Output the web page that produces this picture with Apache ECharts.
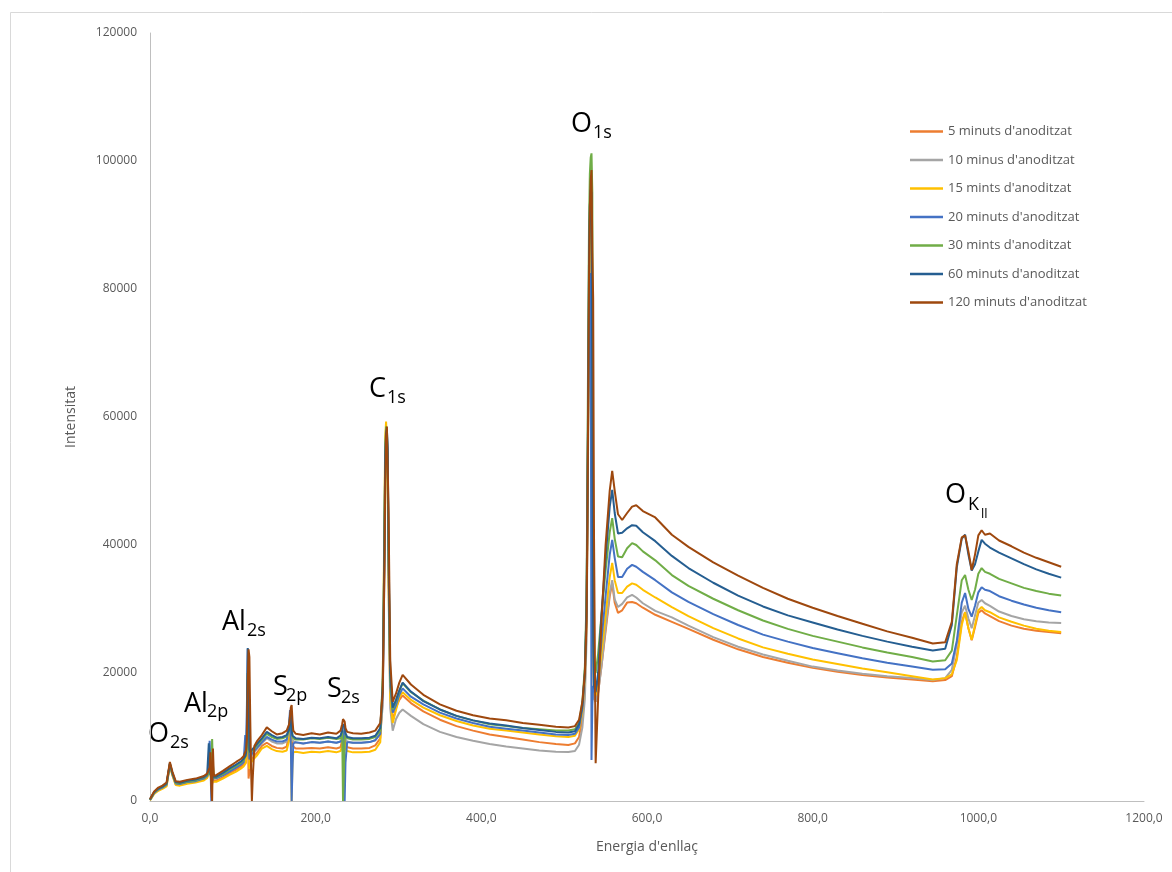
<!DOCTYPE html>
<html>
<head>
<meta charset="utf-8">
<title>Espectres XPS</title>
<script src="https://cdn.jsdelivr.net/npm/echarts@6/dist/echarts.min.js"></script>
<style>
  html, body { margin: 0; padding: 0; background: #ffffff; }
  #chart { width: 1172px; height: 872px; }
</style>
</head>
<body>
<div id="chart"></div>
<script>
// Binding energy grid (eV), grouped by spectral region
const energies = [
  0, 5, 10, 15, 20, 24, 27, 31, 36, 45, 55, 65, 69,                 // O2s
  71, 72, 73, 74, 75, 76, 77, 78, 80,                               // Al2p
  88, 96, 104, 110, 113,
  115, 116, 117, 118, 119, 120, 121, 122, 123, 124, 126, 129,       // Al2s
  135, 141, 147, 153, 160, 165,
  168, 169, 170, 171, 172, 173, 176,                                // S2p
  185, 195, 205, 215, 225, 230,
  232, 233, 234, 235, 236, 238,                                     // S2s
  245, 255, 265, 272, 278,
  281, 283, 284, 285, 286, 287, 288, 290, 293, 297, 301, 305,       // C1s
  315, 330, 350, 370, 390, 410, 430, 450, 470, 490, 505, 513, 518, 522, 525,
  527, 528, 529, 530, 531, 532, 533, 534, 535, 536, 538,            // O1s
  541, 545, 550, 555, 558, 561, 565, 570, 576, 582, 587, 595,
  610, 630, 650, 680, 710, 740, 770, 800, 830, 860, 890, 920, 945, 960,
  968, 974, 980, 984, 988, 992, 996, 1000, 1004, 1008, 1014, 1025, 1040, 1055, 1070, 1085, 1100  // O KLL
];

// Intensities (counts), one array per anodising time
const min5 = [
  150, 1200, 1700, 2000, 2400, 5600, 4100, 2600, 2500, 2800, 3000, 3400, 3700,
  4000, 7000, 4500, 3200, 2600, 3300, 3300, 3100, 3200,
  3700, 4300, 4900, 5400, 5700,
  6000, 6500, 9000, 14000, 3500, 3800, 5600, 6300, 6600, 6800, 7000, 7500,
  8600, 9100, 8600, 8300, 8200, 8500,
  10500, 12500, 12300, 9500, 8600, 8300, 8200,
  8200, 8300, 8200, 8400, 8200, 8400,
  9500, 10600, 11000, 10000, 9000, 8400,
  8200, 8200, 8300, 8700, 9800,
  16000, 38000, 53000, 57500, 57800, 52000, 37000, 17000, 12500, 14600, 15800, 16500,
  15300, 14000, 12700, 11700, 11000, 10400, 10000, 9600, 9200, 8900, 8750, 9000, 10000, 13000, 18000,
  27000, 42000, 60000, 78000, 88000, 92000, 90000, 65000, 28000, 16000, 15500,
  17000, 21000, 26500, 32000, 34000, 31000, 29400, 29800, 31000, 31100, 30900, 30200,
  29100, 28000, 26900, 25200, 23700, 22500, 21600, 20800, 20200, 19700, 19300, 19000, 18700, 18900,
  19500, 22500, 28000, 29500, 27000, 25100, 27200, 29400, 29800, 29300, 28900, 28100, 27400, 26900, 26600, 26400, 26200
];
const min10 = [
  200, 1300, 1850, 2150, 2600, 5800, 4300, 2850, 2700, 3000, 3200, 3600, 4000,
  4200, 5000, 4800, 3600, 3300, 3500, 3500, 3400, 3500,
  4100, 4700, 5300, 5800, 6100,
  6400, 6800, 9000, 20000, 12000, 6000, 6500, 6900, 7100, 7300, 7600, 8100,
  9000, 9800, 9300, 9000, 9000, 9300,
  11000, 12800, 13000, 10800, 9500, 9200, 9100,
  9000, 9200, 9100, 9300, 9100, 9300,
  10200, 11600, 12000, 10800, 9700, 9300,
  9100, 9100, 9200, 9500, 10500,
  15000, 36000, 51000, 56000, 57000, 50000, 33000, 14500, 11000, 12800, 13800, 14300,
  13300, 12000, 10800, 10000, 9400, 8900, 8500, 8200, 7900, 7700, 7650, 7800, 8800, 11500, 16000,
  25000, 40000, 58000, 74000, 84000, 88000, 86000, 60000, 24000, 16000, 15500,
  16900, 21000, 27000, 32500, 34500, 31500, 30300, 30800, 31800, 32200, 31800, 30900,
  29700, 28700, 27400, 25600, 24100, 22900, 21900, 21000, 20400, 19900, 19500, 19200, 18900, 19200,
  20500, 24500, 29500, 30500, 28500, 27000, 29000, 31000, 31400, 30900, 30500, 29600, 28900, 28400, 28100, 27900, 27800
];
const min15 = [
  100, 1100, 1600, 1900, 2300, 5500, 4000, 2500, 2400, 2700, 2900, 3200, 3600,
  3800, 4600, 4200, 3000, 2800, 3200, 3000, 2900, 3000,
  3500, 4100, 4600, 5100, 5400,
  5600, 6000, 9000, 19000, 12000, 5000, 5600, 6000, 6200, 6400, 6600, 7100,
  8200, 8600, 8100, 7800, 7700, 7900,
  9500, 11000, 12000, 0, 6000, 7600, 7700,
  7500, 7700, 7600, 7800, 7600, 7800,
  8600, 9800, 10000, 9000, 8200, 7800,
  7600, 7600, 7700, 8000, 9200,
  19000, 45000, 57000, 59300, 56000, 48000, 34000, 16000, 12200, 14200, 16200, 17000,
  15800, 14600, 13400, 12500, 11800, 11300, 11000, 10700, 10400, 10100, 10000, 10200, 11200, 14000, 19500,
  29000, 44000, 62000, 80000, 90000, 93000, 92000, 70000, 30000, 17000, 16500,
  18900, 23000, 29000, 35000, 37200, 34500, 32500, 32500, 33500, 34000, 33800, 33000,
  31800, 30300, 28900, 27000, 25400, 24000, 23000, 22100, 21400, 20700, 20100, 19500, 19000, 19200,
  19800, 22000, 27500, 29500, 27000, 25200, 27500, 29800, 30300, 29800, 29500, 28700, 28000, 27400, 26900, 26600, 26400
];
const min20 = [
  150, 1250, 1800, 2100, 2550, 5700, 4200, 2750, 2650, 2950, 3100, 3500, 3900,
  5000, 9400, 6000, 0, 3000, 3600, 3600, 3500, 3600,
  4000, 4600, 5200, 5700, 6100,
  10300, 8000, 15000, 23800, 10000, 6500, 6800, 7200, 7400, 7600, 7800, 8300,
  9200, 10000, 9600, 9300, 9300, 9600,
  12000, 14200, 9000, 0, 5000, 9000, 9200,
  9000, 9200, 9100, 9300, 9100, 9300,
  9400, 9600, 11000, 0, 6000, 9200,
  9100, 9100, 9200, 9500, 10500,
  17000, 40000, 54000, 57000, 57500, 53000, 38000, 18000, 13800, 15000, 16600, 17600,
  16300, 15100, 13800, 12900, 12200, 11600, 11300, 11000, 10700, 10400, 10300, 10500, 11500, 14500, 20000,
  30000, 46000, 62000, 72000, 78000, 82500, 6400, 15000, 18000, 17000, 17500,
  19000, 25000, 32000, 38500, 40800, 38000, 35000, 35000, 36300, 36900, 36600, 35800,
  34500, 32600, 31100, 29200, 27500, 26000, 24900, 23900, 23100, 22300, 21600, 21000, 20500, 20600,
  21500, 25000, 31000, 32500, 30000, 28800, 30500, 32600, 33400, 33000, 32800, 32000, 31300, 30700, 30200, 29800, 29500
];
const min30 = [
  200, 1350, 1900, 2200, 2650, 5800, 4300, 2850, 2750, 3050, 3250, 3650, 4050,
  4000, 4300, 4500, 5200, 9700, 5600, 4000, 3600, 3700,
  4200, 4900, 5500, 6000, 6400,
  6700, 7100, 8500, 20000, 15000, 7500, 7300, 7600, 7800, 8000, 8200, 8700,
  9600, 10500, 10000, 9700, 9800, 10100,
  11000, 12800, 13500, 11500, 10200, 9800, 9600,
  9600, 9800, 9700, 9900, 9700, 9800,
  11000, 0, 4000, 9600, 10300, 9800,
  9600, 9600, 9700, 10000, 11000,
  19000, 42000, 55000, 58500, 58000, 52000, 38000, 19000, 14300, 15600, 17200, 18400,
  17000, 15700, 14300, 13300, 12600, 12000, 11700, 11400, 11200, 11000, 11000, 11200, 12200, 15500, 21000,
  32000, 50000, 72000, 90000, 98000, 100500, 101200, 95000, 40000, 22000, 20000,
  23000, 29000, 36000, 42000, 44200, 41000, 38200, 38100, 39500, 40300, 40000, 39000,
  37600, 35300, 33600, 31600, 29800, 28200, 26900, 25800, 24900, 24000, 23200, 22500, 21800, 22000,
  23500, 29000, 34500, 35300, 33000, 31400, 33000, 35500, 36400, 35800, 35500, 34700, 34000, 33300, 32800, 32400, 32100
];
const min60 = [
  250, 1400, 1950, 2250, 2750, 5900, 4400, 2950, 2850, 3150, 3350, 3750, 4150,
  9000, 6000, 4200, 3800, 3600, 3700, 3800, 3700, 3800,
  4400, 5100, 5700, 6200, 6600,
  7000, 7500, 12000, 23900, 16000, 8000, 7600, 7800, 8000, 8200, 8400, 8900,
  9800, 10800, 10300, 9900, 10000, 10300,
  11200, 13500, 14000, 11000, 10200, 9900, 9800,
  9700, 9900, 9800, 10000, 9800, 10200,
  11000, 12000, 12200, 11600, 10600, 10000,
  9800, 9800, 9900, 10200, 11400,
  18000, 40000, 54000, 57500, 58000, 55000, 40000, 20000, 14600, 15800, 17300, 18500,
  17100, 15600, 14300, 13300, 12600, 12100, 11800, 11400, 11100, 10800, 10700, 10900, 12000, 15000, 20000,
  30000, 45000, 65000, 85000, 93000, 95500, 95000, 60000, 25000, 18000, 17000,
  20000, 29000, 38000, 46000, 48600, 45000, 41800, 41900, 42600, 43100, 43000, 42000,
  40600, 38300, 36400, 34100, 32100, 30400, 29000, 27900, 26800, 25800, 24900, 24100, 23500, 23800,
  27500, 36500, 41000, 41600, 38500, 36000, 37000, 39000, 40800, 40200, 39600, 38800, 37900, 37000, 36200, 35500, 34900
];
const min120 = [
  300, 1500, 2100, 2400, 2900, 6100, 4600, 3100, 3000, 3300, 3500, 3900, 4300,
  4600, 5200, 7600, 2200, 0, 8200, 4300, 3900, 4000,
  4700, 5400, 6100, 6600, 7000,
  7300, 8000, 9600, 18500, 23700, 22500, 13000, 5000, 0, 3500, 8600, 9300,
  10300, 11500, 10900, 10400, 10600, 11000,
  12000, 13200, 14600, 15000, 12600, 11000, 10500,
  10300, 10600, 10400, 10700, 10500, 11000,
  12000, 12800, 13000, 12400, 11400, 10800,
  10600, 10500, 10700, 11000, 12200,
  17000, 36000, 50000, 57000, 58500, 58800, 45000, 22000, 15500, 16800, 18500, 19700,
  18200, 16600, 15100, 14100, 13400, 12900, 12600, 12200, 11900, 11600, 11500, 11700, 12700, 15500, 20000,
  28000, 42000, 62000, 82000, 93000, 97000, 98600, 86000, 78500, 42000, 5900,
  16000, 28000, 40000, 48500, 51600, 48500, 44800, 43900, 45000, 46000, 46200, 45300,
  44300, 41600, 39700, 37300, 35200, 33300, 31600, 30200, 28900, 27700, 26500, 25500, 24600, 24800,
  28000, 37000, 41200, 41500, 39000, 36100, 38500, 41500, 42300, 41600, 41800, 40700, 39800, 38800, 38000, 37300, 36600
];

const seriesNames = [
  "5 minuts d'anoditzat",
  "10 minus d'anoditzat",
  "15 mints d'anoditzat",
  "20 minuts d'anoditzat",
  "30 mints d'anoditzat",
  "60 minuts d'anoditzat",
  "120 minuts d'anoditzat"
];
const seriesValues = [min5, min10, min15, min20, min30, min60, min120];
const seriesColors = ['#ED7D31', '#A5A5A5', '#FFC000', '#4472C4', '#70AD47', '#255E91', '#9E480E'];

seriesValues.forEach((arr, i) => {
  if (arr.length !== energies.length) {
    throw new Error(seriesNames[i] + ': ' + arr.length + ' values for ' + energies.length + ' energies');
  }
});

// Peak annotations: element, subscript, optional second-level subscript
const peakLabels = [
  { main: 'O',  sub: '2s', x: 148, base: 742, subX: 170, subBase: 748 },
  { main: 'Al', sub: '2p', x: 184, base: 712, subX: 207, subBase: 717 },
  { main: 'Al', sub: '2s', x: 222, base: 630, subX: 247, subBase: 636 },
  { main: 'S',  sub: '2p', x: 273, base: 695, subX: 286, subBase: 701 },
  { main: 'S',  sub: '2s', x: 327, base: 697, subX: 341, subBase: 703 },
  { main: 'C',  sub: '1s', x: 369, base: 397, subX: 387, subBase: 403 },
  { main: 'O',  sub: '1s', x: 571, base: 132, subX: 593, subBase: 138 },
  { main: 'O',  sub: 'K',  x: 945, base: 503, subX: 968, subBase: 510, sub2: 'll', sub2X: 981, sub2Base: 518 }
];

const labelFont = '"Open Sans", "DejaVu Sans", sans-serif';
function textEl(str, x, baseline, size) {
  return {
    type: 'text',
    silent: true,
    style: {
      text: str,
      x: x,
      y: baseline + size * 0.22,
      fill: '#000000',
      font: size + 'px ' + labelFont,
      align: 'left',
      verticalAlign: 'bottom'
    }
  };
}
const graphics = [{
  type: 'rect',
  silent: true,
  shape: { x: 10.5, y: 12.5, width: 1200, height: 900 },
  style: { fill: 'none', stroke: '#D9D9D9', lineWidth: 1 }
}];
peakLabels.forEach(p => {
  graphics.push(textEl(p.main, p.x, p.base, 27));
  graphics.push(textEl(p.sub, p.subX, p.subBase, 18));
  if (p.sub2) graphics.push(textEl(p.sub2, p.sub2X, p.sub2Base, 13));
});

const chart = echarts.init(document.getElementById('chart'), null, { renderer: 'canvas' });
chart.setOption({
  animation: false,
  backgroundColor: '#ffffff',
  textStyle: { fontFamily: '"Open Sans", "DejaVu Sans", sans-serif' },
  grid: { left: 150, right: 28, top: 33, bottom: 71, containLabel: false },
  legend: {
    orient: 'vertical',
    left: 905,
    top: 120,
    icon: 'rect',
    itemWidth: 33,
    itemHeight: 2.5,
    itemGap: 15.5,
    data: seriesNames,
    textStyle: { color: '#595959', fontSize: 13, fontFamily: '"Open Sans", sans-serif' }
  },
  xAxis: {
    type: 'value',
    min: 0,
    max: 1200,
    interval: 200,
    name: "Energia d'enllaç",
    nameLocation: 'middle',
    nameGap: 39,
    nameTextStyle: { color: '#595959', fontSize: 14 },
    axisLine: { show: true, lineStyle: { color: '#BFBFBF', width: 1 } },
    axisTick: { show: false },
    splitLine: { show: false },
    axisLabel: {
      color: '#595959',
      fontSize: 12,
      margin: 12,
      formatter: v => v.toFixed(1).replace('.', ',')
    }
  },
  yAxis: {
    type: 'value',
    min: 0,
    max: 120000,
    interval: 20000,
    name: 'Intensitat',
    nameLocation: 'middle',
    nameGap: 72,
    nameRotate: 90,
    nameTextStyle: { color: '#595959', fontSize: 14 },
    axisLine: { show: true, lineStyle: { color: '#BFBFBF', width: 1 } },
    axisTick: { show: false },
    splitLine: { show: false },
    axisLabel: { color: '#595959', fontSize: 12, margin: 13, formatter: v => String(v) }
  },
  graphic: graphics,
  series: seriesValues.map((vals, i) => ({
    name: seriesNames[i],
    type: 'line',
    data: energies.map((e, k) => [e, vals[k]]),
    showSymbol: false,
    symbol: 'none',
    smooth: false,
    sampling: null,
    color: seriesColors[i],
    lineStyle: { color: seriesColors[i], width: 2 },
    emphasis: { disabled: true },
    z: 2 + i
  }))
});
</script>
</body>
</html>
